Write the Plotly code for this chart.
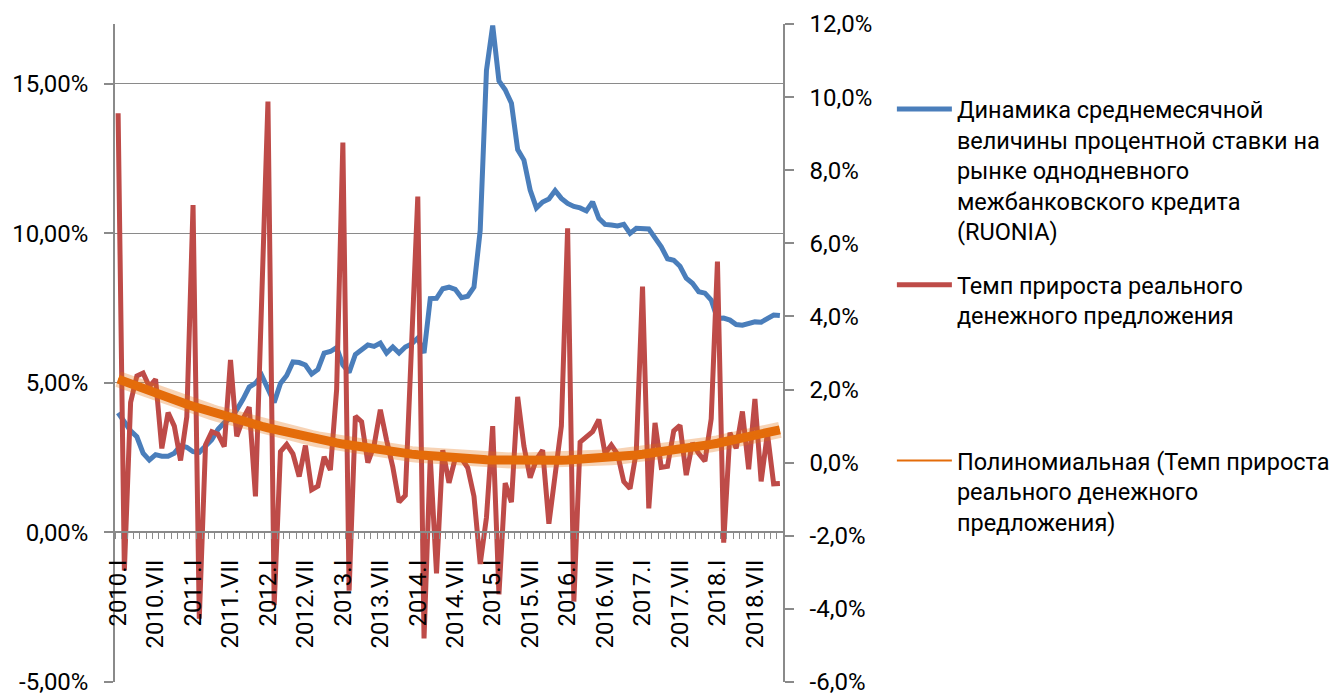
import numpy as np
import plotly.graph_objects as go

# ---------------- data ----------------
roman = ["I", "II", "III", "IV", "V", "VI", "VII", "VIII", "IX", "X", "XI", "XII"]
months = [f"{y}.{m}" for y in range(2010, 2019) for m in roman][:107]   # 2010.I .. 2018.XI

ruonia = [4.0, 3.68, 3.4, 3.2, 2.65, 2.42, 2.6, 2.55, 2.55, 2.65, 2.9, 2.85,
          2.7, 2.68, 2.9, 3.1, 3.45, 3.67, 3.82, 4.1, 4.45, 4.86, 4.99, 5.25,
          4.8, 4.35, 4.98, 5.25, 5.7, 5.68, 5.6, 5.3, 5.45, 6.0, 6.05, 6.18,
          5.6, 5.35, 5.95, 6.1, 6.27, 6.22, 6.33, 6.0, 6.2, 6.0, 6.2, 6.3,
          6.5, 6.0, 7.82, 7.83, 8.15, 8.2, 8.13, 7.85, 7.9, 8.2, 10.1, 15.45,
          16.95, 15.1, 14.8, 14.35, 12.8, 12.45, 11.45, 10.85, 11.05, 11.15, 11.43, 11.17,
          11.0, 10.9, 10.85, 10.75, 11.05, 10.5, 10.3, 10.28, 10.25, 10.3, 10.0, 10.17,
          10.14, 10.15, 9.85, 9.55, 9.15, 9.1, 8.9, 8.5, 8.33, 8.05, 8.0, 7.77,
          7.15, 7.17, 7.1, 6.95, 6.93, 6.98, 7.04, 7.03, 7.15, 7.27, 7.25]

money = [9.56, -2.95, 1.65, 2.37, 2.45, 2.08, 2.28, 0.39, 1.37, 1.0, 0.06, 1.25,
         7.05, -4.27, 0.49, 0.85, 0.78, 0.44, 2.81, 0.72, 1.2, 1.52, -0.92, 4.4,
         9.88, -3.9, 0.3, 0.5, 0.24, -0.38, 0.47, -0.74, -0.64, 0.16, -0.2, 2.0,
         8.76, -3.5, 1.27, 1.12, 0.0, 0.47, 1.45, 0.62, -0.12, -1.08, -0.9, 3.2,
         7.28, -4.81, 0.15, -3.03, 0.34, -0.55, 0.12, 0.12, -0.14, -0.92, -2.77, -1.5,
         1.0, -3.6, -0.56, -1.08, 1.8, 0.45, -0.41, 0.09, 0.34, -1.67, -0.3, 1.0,
         6.41, -3.8, 0.56, 0.7, 0.85, 1.18, 0.25, 0.48, 0.23, -0.52, -0.71, 0.3,
         4.82, -1.25, 1.09, -0.13, -0.1, 0.87, 1.02, -0.34, 0.54, 0.25, 0.04, 1.2,
         5.5, -2.19, 0.82, 0.39, 1.4, -0.18, 1.74, -0.51, 0.8, -0.58, -0.57]

left_ticks = [-5, 0, 5, 10, 15]
right_ticks = [-6, -4, -2, 0, 2, 4, 6, 8, 10, 12]
left_range = [-5, 17]
right_range = [-6, 12]

name_ruonia = ("Динамика среднемесячной<br>величины процентной ставки на<br>"
               "рынке однодневного<br>межбанковского кредита<br>(RUONIA)")
name_money = "Темп прироста реального<br>денежного предложения<br> <br> <br> "
name_trend = "Полиномиальная (Темп прироста<br>реального денежного<br>предложения)"

# ---------------- derived ----------------
x = np.arange(len(months))
coef = np.polyfit(x, money, 2)          # Excel-style 2nd-order polynomial trendline
trend = np.polyval(coef, x)

label_idx = list(range(0, len(months), 6))
left_text = [f"{v:.2f}%".replace(".", ",") for v in left_ticks]
right_text = [f"{v:.1f}%".replace(".", ",") for v in right_ticks]

FONT = "Roboto"
GREY = "#8a8a8a"
TXT = dict(family=FONT, size=24, color="#000000")
LEG = dict(family=FONT, size=23.5, color="#000000")

fig = go.Figure()
fig.add_trace(go.Scatter(x=x, y=ruonia, mode="lines", name=name_ruonia,
                         line=dict(color="#4a7ebb", width=5), legendgroup="a"))
fig.add_trace(go.Scatter(x=x, y=money, mode="lines", name=name_money, yaxis="y2",
                         line=dict(color="#be4b48", width=5), legendgroup="b"))
fig.add_trace(go.Scatter(x=x, y=trend, mode="lines", yaxis="y2", showlegend=False,
                         line=dict(color="rgba(228,108,10,0.3)", width=16), hoverinfo="skip"))
fig.add_trace(go.Scatter(x=x, y=trend, mode="lines", yaxis="y2", showlegend=False,
                         line=dict(color="rgb(228,108,10)", width=9), hoverinfo="skip"))
fig.add_trace(go.Scatter(x=x, y=trend, mode="lines", name=name_trend, yaxis="y2",
                         line=dict(color="rgb(228,108,10)", width=2), legendgroup="c"))

zero_pos = (0 - left_range[0]) / (left_range[1] - left_range[0])

fig.update_layout(
    width=1342, height=693,
    margin=dict(l=107, r=567, t=16, b=19, autoexpand=False),
    paper_bgcolor="white", plot_bgcolor="white",
    font=TXT,
    showlegend=True,
    legend=dict(x=1.163, y=0.904, xanchor="left", yanchor="top", valign="top",
                font=LEG, tracegroupgap=20, itemwidth=55, bgcolor="rgba(0,0,0,0)"),
    xaxis=dict(range=[-0.5, len(months) - 0.5], anchor="free", position=zero_pos,
               showgrid=False, zeroline=False, showline=True, linecolor=GREY, linewidth=1.5,
               tickmode="array", tickvals=label_idx, ticktext=[months[i] for i in label_idx],
               ticks="", tickangle=-90, ticklabelstandoff=17, tickfont=TXT,
               minor=dict(tickmode="array", tickvals=[i - 0.5 for i in range(len(months) + 1)],
                          ticks="outside", ticklen=6, tickcolor=GREY, tickwidth=1.2)),
    yaxis=dict(range=left_range, tickmode="array", tickvals=left_ticks, ticktext=left_text,
               showgrid=True, gridcolor=GREY, gridwidth=1.3, zeroline=False,
               showline=True, linecolor=GREY, linewidth=1.5,
               ticks="outside", ticklen=9, tickcolor=GREY, tickwidth=1.5,
               ticklabelstandoff=11, tickfont=TXT),
    yaxis2=dict(range=right_range, overlaying="y", side="right", anchor="x",
                tickmode="array", tickvals=right_ticks, ticktext=right_text,
                showgrid=False, zeroline=False, showline=True, linecolor=GREY, linewidth=1.5,
                ticks="outside", ticklen=9, tickcolor=GREY, tickwidth=1.5,
                ticklabelstandoff=11, tickfont=TXT),
)

fig.write_html("out.html")
